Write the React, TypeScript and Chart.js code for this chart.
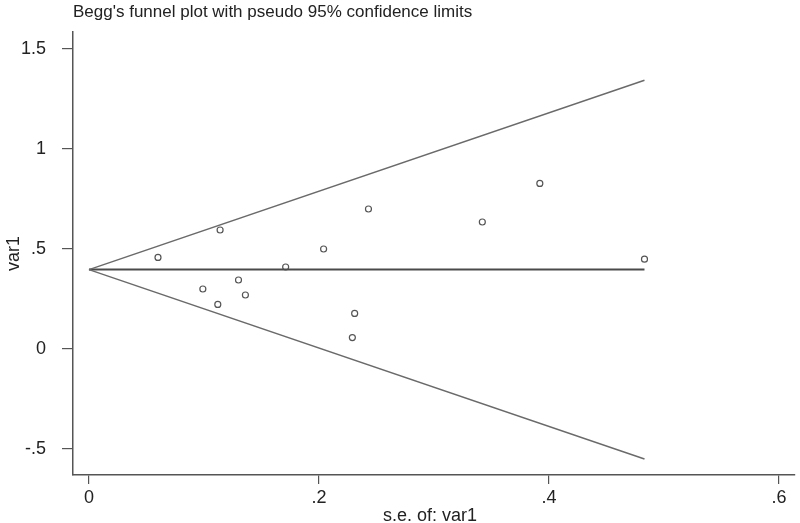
import React, { useEffect, useRef } from "react";
import { Chart, registerables } from "chart.js";

Chart.register(...registerables);

const seValues = [0.060, 0.114, 0.099, 0.112, 0.130, 0.136, 0.171, 0.204, 0.231, 0.229, 0.243, 0.342, 0.392, 0.483];
const effectValues = [0.458, 0.595, 0.30, 0.223, 0.345, 0.27, 0.41, 0.50, 0.178, 0.057, 0.70, 0.635, 0.828, 0.449];
const seRange = [0, 0.483];
const pooledLine = [0.397, 0.397];
const upperLimit = [0.397, 1.344];
const lowerLimit = [0.397, -0.55];
const xTicks = [0, 0.2, 0.4, 0.6];
const xTickLabels = ["0", ".2", ".4", ".6"];
const yTicks = [-0.5, 0, 0.5, 1, 1.5];
const yTickLabels = ["-.5", "0", ".5", "1", "1.5"];
const titleText = "Begg's funnel plot with pseudo 95% confidence limits";
const xTitle = "s.e. of: var1";
const yTitle = "var1";

const FONT = "'Liberation Sans', Arial, sans-serif";

const textPlugin = {
  id: "stataText",
  afterDraw(chart: any) {
    const ctx = chart.ctx;
    const area = chart.chartArea;
    ctx.save();
    ctx.fillStyle = "#222";
    ctx.font = `17px ${FONT}`;
    ctx.textBaseline = "alphabetic";
    ctx.textAlign = "left";
    ctx.fillText(titleText, area.left, 17);
    ctx.font = `18px ${FONT}`;
    ctx.textAlign = "center";
    ctx.fillText(xTitle, (area.left + area.right) / 2 - 4, 521);
    ctx.translate(19, (area.top + area.bottom) / 2);
    ctx.rotate(-Math.PI / 2);
    ctx.fillText(yTitle, 0, 0);
    ctx.restore();
  },
};

export default function App() {
  const ref = useRef<HTMLCanvasElement>(null);
  useEffect(() => {
    document.body.style.margin = "0";
    const canvas = ref.current!;
    const lineData = (ys: number[]) => seRange.map((x, i) => ({ x, y: ys[i] }));
    const chart = new Chart(canvas, {
      type: "scatter",
      data: {
        datasets: [
          {
            type: "line",
            data: lineData(upperLimit),
            borderColor: "#6a6a6a",
            borderWidth: 1.5,
            pointRadius: 0,
            showLine: true,
          } as any,
          {
            type: "line",
            data: lineData(lowerLimit),
            borderColor: "#6a6a6a",
            borderWidth: 1.5,
            pointRadius: 0,
            showLine: true,
          } as any,
          {
            type: "line",
            data: lineData(pooledLine),
            borderColor: "#4a4a4a",
            borderWidth: 2,
            pointRadius: 0,
            showLine: true,
          } as any,
          {
            data: seValues.map((x, i) => ({ x, y: effectValues[i] })),
            pointRadius: 3,
            pointBorderWidth: 1.2,
            pointBorderColor: "#555",
            pointBackgroundColor: "rgba(255,255,255,0)",
            showLine: false,
          },
        ],
      },
      options: {
        animation: false,
        responsive: false,
        maintainAspectRatio: false,
        layout: { padding: { top: 32, right: 5, left: 0, bottom: 0 } },
        plugins: { legend: { display: false }, tooltip: { enabled: false }, title: { display: false } },
        scales: {
          x: {
            type: "linear",
            min: -0.0139,
            max: 0.6137,
            afterBuildTicks: (s: any) => {
              s.ticks = xTicks.map((v) => ({ value: v }));
            },
            afterFit: (s: any) => {
              s.height = 48;
            },
            ticks: {
              color: "#222",
              font: { family: FONT, size: 18 },
              padding: 3,
              maxRotation: 0,
              callback: (v: any) => {
                const i = xTicks.indexOf(Number(v));
                return i >= 0 ? xTickLabels[i] : "";
              },
            },
            grid: { display: true, drawOnChartArea: false, drawTicks: true, tickLength: 9, color: "#555", lineWidth: 1.2 },
            border: { display: true, color: "#555", width: 1.5 },
          },
          y: {
            type: "linear",
            min: -0.63,
            max: 1.585,
            afterBuildTicks: (s: any) => {
              s.ticks = yTicks.map((v) => ({ value: v }));
            },
            afterFit: (s: any) => {
              s.width = 73;
            },
            ticks: {
              color: "#222",
              font: { family: FONT, size: 18 },
              padding: 16,
              callback: (v: any) => {
                const i = yTicks.indexOf(Number(v));
                return i >= 0 ? yTickLabels[i] : "";
              },
            },
            grid: { display: true, drawOnChartArea: false, drawTicks: true, tickLength: 11, color: "#555", lineWidth: 1.2 },
            border: { display: true, color: "#555", width: 1.5 },
          },
        },
      },
      plugins: [textPlugin],
    } as any);
    return () => chart.destroy();
  }, []);
  return (
    <div style={{ width: 800, height: 523, background: "#fff" }}>
      <canvas ref={ref} width={800} height={523} style={{ display: "block" }} />
    </div>
  );
}
